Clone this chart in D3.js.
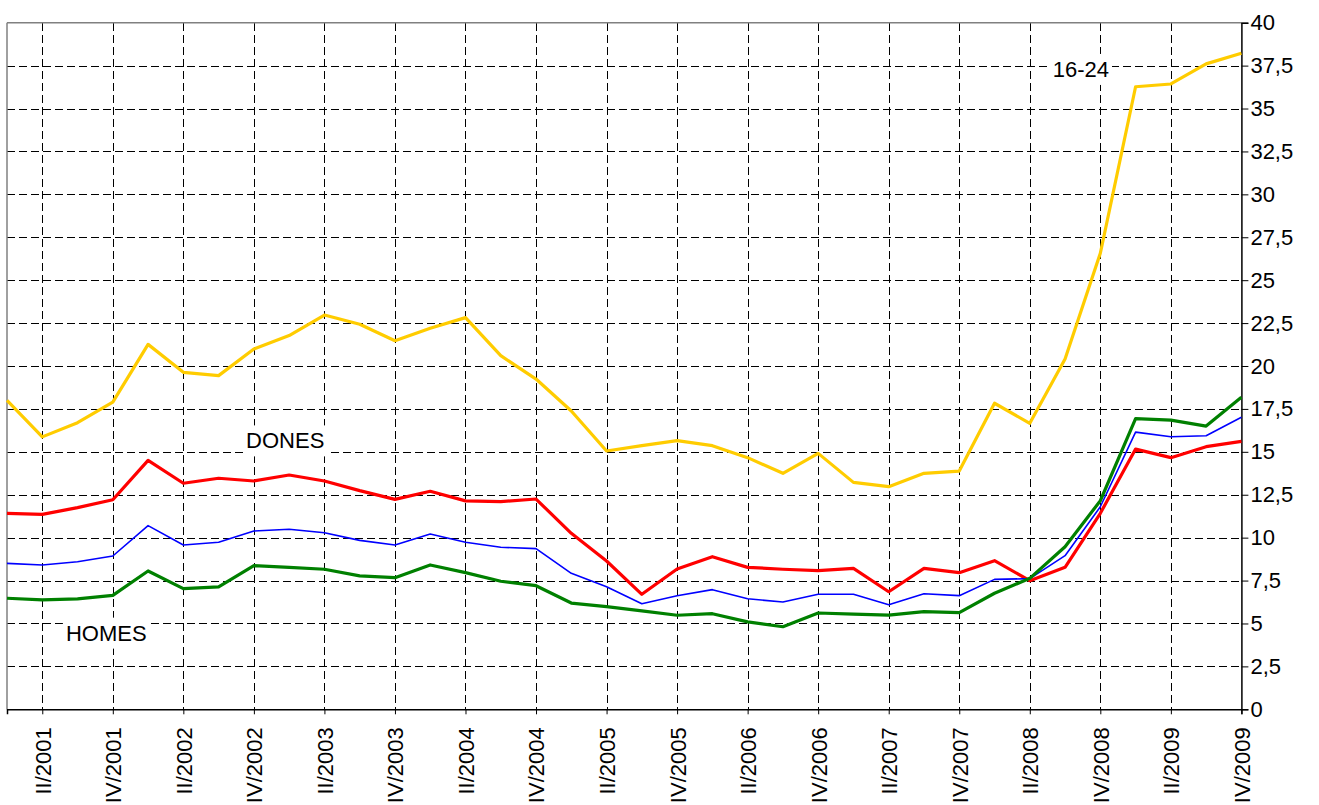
<!DOCTYPE html>
<html>
<head>
<meta charset="utf-8">
<title>Taxa d'atur</title>
<script src="https://d3js.org/d3.v7.min.js"></script>
<style>
body { margin: 0; background: #fff; }
svg text { font-family: "Liberation Sans", Arial, sans-serif; fill: #000; }
.grid line { stroke: #000; stroke-width: 1; stroke-dasharray: 8,4; shape-rendering: crispEdges; }
.series { fill: none; stroke-linejoin: round; }
</style>
</head>
<body>
<svg id="chart" width="1319" height="805"></svg>
<script>
// quarters I/2001 .. IV/2009
var romans = ["I", "II", "III", "IV"];
var quarters = [];
for (var yr = 2001; yr <= 2009; yr++) {
  romans.forEach(function (r) { quarters.push(r + "/" + yr); });
}

// 16-24 anys
var youth = [18.0, 15.87, 16.7, 17.9, 21.26, 19.63, 19.44, 20.99, 21.77, 22.97, 22.43, 21.47,
  22.2, 22.82, 20.6, 19.24, 17.38, 15.05, 15.36, 15.65, 15.36, 14.66, 13.75, 14.91,
  13.22, 12.97, 13.75, 13.88, 17.83, 16.66, 20.41, 26.57, 36.27, 36.43, 37.6, 38.22];
// dones
var women = [11.42, 11.36, 11.75, 12.21, 14.5, 13.17, 13.46, 13.3, 13.65, 13.3, 12.74, 12.23,
  12.7, 12.14, 12.1, 12.25, 10.25, 8.64, 6.7, 8.17, 8.89, 8.27, 8.16, 8.08,
  8.21, 6.85, 8.21, 7.96, 8.66, 7.49, 8.27, 11.42, 15.16, 14.66, 15.3, 15.61];
// total
var total = [8.5, 8.41, 8.6, 8.93, 10.7, 9.57, 9.73, 10.39, 10.49, 10.29, 9.84, 9.57,
  10.21, 9.73, 9.44, 9.36, 7.92, 7.14, 6.15, 6.62, 6.97, 6.44, 6.25, 6.7,
  6.7, 6.09, 6.73, 6.62, 7.57, 7.61, 8.95, 11.8, 16.15, 15.88, 15.94, 17.01];
// homes
var men = [6.47, 6.37, 6.43, 6.64, 8.06, 7.03, 7.13, 8.37, 8.27, 8.16, 7.77, 7.67,
  8.41, 7.96, 7.46, 7.2, 6.19, 5.98, 5.73, 5.48, 5.57, 5.09, 4.81, 5.61,
  5.55, 5.49, 5.69, 5.63, 6.76, 7.63, 9.47, 12.15, 16.93, 16.85, 16.5, 18.18];

var yTicks = d3.range(0, 40.01, 2.5);

var svg = d3.select("#chart");
var pLeft = 7, pRight = 1241.4, pTop = 22.7, pBottom = 709.3;
var fontSize = 22;

var x = d3.scaleLinear().domain([0, quarters.length - 1]).range([pLeft, pRight]);
var y = d3.scaleLinear().domain([0, 40]).range([pBottom, pTop]);

// every second quarter is labelled (II and IV)
var labelled = quarters.map(function (q, i) { return i; }).filter(function (i) { return i % 2 === 1; });

var grid = svg.append("g").attr("class", "grid");
grid.selectAll("line.h")
    .data(yTicks.filter(function (v) { return v > 0 && v < 40; }))
  .enter().append("line")
    .attr("class", "h")
    .attr("x1", pLeft).attr("x2", pRight)
    .attr("y1", function (d) { return Math.round(y(d)) + 0.5; })
    .attr("y2", function (d) { return Math.round(y(d)) + 0.5; });
grid.selectAll("line.v")
    .data(labelled.filter(function (i) { return i < quarters.length - 1; }))
  .enter().append("line")
    .attr("class", "v")
    .attr("y1", pTop).attr("y2", pBottom)
    .attr("x1", function (i) { return Math.round(x(i)) + 0.5; })
    .attr("x2", function (i) { return Math.round(x(i)) + 0.5; });

// frame: grey top/left, dark axes bottom/right
svg.append("line").attr("x1", pLeft).attr("x2", pRight).attr("y1", pTop).attr("y2", pTop)
    .attr("stroke", "#808080").attr("stroke-width", 1.5);
svg.append("line").attr("x1", pLeft).attr("x2", pLeft).attr("y1", pTop).attr("y2", pBottom)
    .attr("stroke", "#808080").attr("stroke-width", 1.5);

var yAxis = d3.axisRight(y).tickValues(yTicks).tickSize(7).tickPadding(2)
    .tickFormat(function (d) { return String(d).replace(".", ","); });
svg.append("g")
    .attr("transform", "translate(" + pRight + ",0)")
    .call(yAxis)
    .call(function (g) {
      g.select(".domain").attr("stroke", "#000").attr("stroke-width", 1.5);
      g.selectAll(".tick line").attr("stroke", "#000");
      g.selectAll(".tick text").attr("font-size", fontSize).attr("font-family", "Liberation Sans, Arial, sans-serif").attr("fill", "#000");
    });

var xAxis = d3.axisBottom(x).tickValues(labelled).tickSize(5)
    .tickFormat(function (i) { return quarters[i]; });
svg.append("g")
    .attr("transform", "translate(0," + pBottom + ")")
    .call(xAxis)
    .call(function (g) {
      g.select(".domain").attr("stroke", "#000").attr("stroke-width", 1.5);
      g.selectAll(".tick line").attr("stroke", "#000");
      g.selectAll(".tick text")
        .attr("font-size", fontSize).attr("font-family", "Liberation Sans, Arial, sans-serif").attr("fill", "#000")
        .attr("text-anchor", "end")
        .attr("transform", "translate(0,18) rotate(-90)")
        .attr("x", 0).attr("y", 0).attr("dy", "0.36em");
    });

// series labels with white boxes
var labels = [
  {text: "16-24", i: 29.65, v: 36.84},
  {text: "DONES", i: 6.78, v: 15.2},
  {text: "HOMES", i: 1.67, v: 4.0}
];
var labelG = svg.append("g").attr("class", "labels");
labels.forEach(function (l) {
  var g = labelG.append("g");
  var r = g.append("rect").attr("fill", "#fff");
  var t = g.append("text")
      .attr("x", x(l.i)).attr("y", y(l.v))
      .attr("font-size", fontSize)
      .text(l.text);
  var b = t.node().getBBox();
  r.attr("x", b.x - 3).attr("y", b.y - 3)
   .attr("width", b.width + 6).attr("height", b.height + 6);
});

var line = d3.line().x(function (d, i) { return x(i); }).y(function (d) { return y(d); });

var series = [
  {values: youth, color: "#FFCC00", width: 3.2},
  {values: women, color: "#FF0000", width: 3.2},
  {values: total, color: "#0000FF", width: 1.6},
  {values: men, color: "#008000", width: 3.2}
];
svg.selectAll("path.series")
    .data(series)
  .enter().append("path")
    .attr("class", "series")
    .attr("d", function (d) { return line(d.values); })
    .attr("stroke", function (d) { return d.color; })
    .attr("stroke-width", function (d) { return d.width; });
</script>
</body>
</html>
